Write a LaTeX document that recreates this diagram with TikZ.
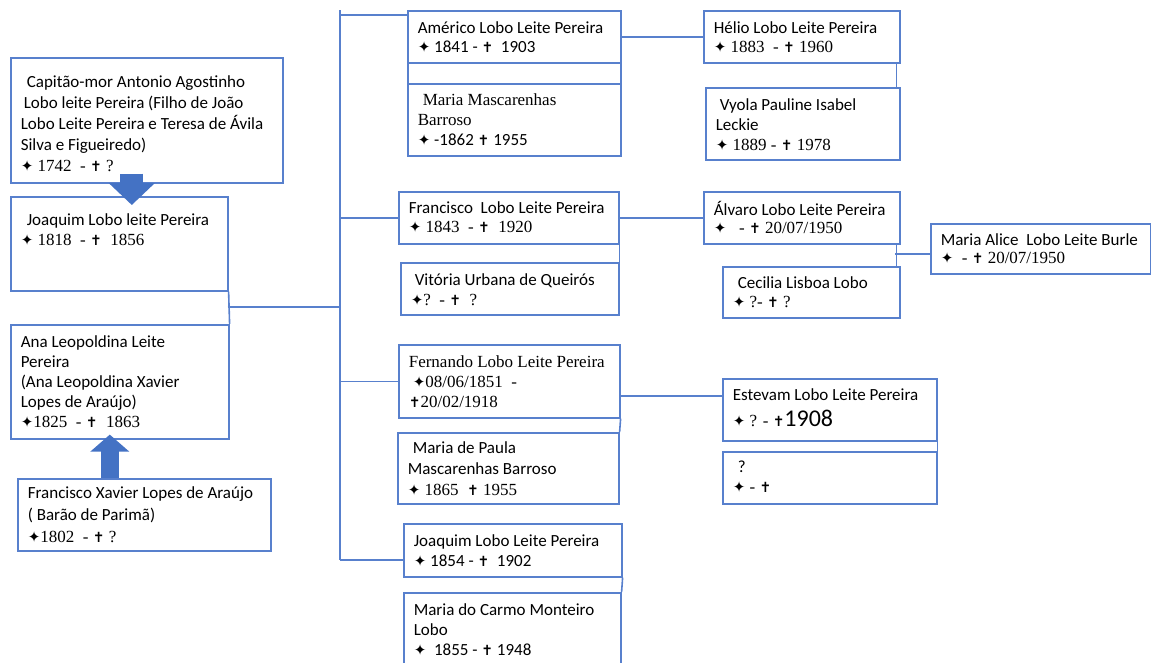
\documentclass[tikz,border=0pt]{standalone}
\usepackage{fontspec}
\setmainfont{Carlito}
\newfontfamily\tm{Liberation Serif}
\newfontfamily\sym{DejaVu Sans}
\usetikzlibrary{arrows.meta}
\definecolor{lineblue}{RGB}{88,128,205}
\definecolor{arrowblue}{RGB}{68,114,196}
\newcommand{\born}{{\sym\fontsize{15}{15}\selectfont ✦}}
\newcommand{\died}{{\sym\fontsize{14}{14}\selectfont ✝}}
\newcommand{\card}[4][22pt]{\parbox[c][#3][t]{#2}{\baselineskip=20pt\rule{0pt}{#1}#4}}

\begin{document}
\begin{tikzpicture}[%
        x = 1pt, y = -1pt,
        person/.style = {draw=lineblue, line width=1.6pt, anchor=north west,
          inner xsep=10pt, inner ysep=0pt, font=\fontsize{17}{20}\selectfont},
        link/.style = {draw=lineblue, line width=1.6pt},
        fatarrow/.style = {draw=arrowblue, line width=23pt,
          -{Triangle[width=45pt,length=22pt]}}
    ]
      \useasboundingbox (0,0) rectangle (1151,662);
      \node[person] (capitao) at (10,57) {\card[30pt]{252pt}{125pt}{\baselineskip=21pt
        \hspace*{6pt}Capitão-mor Antonio Agostinho\\
        \hspace*{3pt}Lobo leite Pereira (Filho de João\\
        Lobo Leite Pereira e Teresa de Ávila\\
        Silva e Figueiredo)\\
        {\tm\born\ 1742~~- \died\ ?}}};
      \node[person] (joaquim) at (10,196) {\card[29pt]{197pt}{94pt}{%
        \hspace*{6pt}Joaquim Lobo leite Pereira\\
        {\tm\born\ 1818~~- \died~~1856}}};
      \node[person] (ana) at (10,324) {\card[23pt]{198pt}{114pt}{%
        Ana Leopoldina Leite\\
        Pereira\\
        (Ana Leopoldina Xavier\\
        Lopes de Araújo)\\
        {\tm\born1825~~- \died~~1863}}};
      \node[person] (fxavier) at (17,478) {\card[20pt]{233pt}{72pt}{\baselineskip=22pt
        Francisco Xavier Lopes de Araújo\\
        ( Barão de Parimã)\\
        {\tm\born1802~~- \died\ ?}}};
      \node[person] (americo) at (407,10) {\card[23pt]{193pt}{52pt}{\baselineskip=19pt
        Américo Lobo Leite Pereira\\
        \born\ 1841 - \died~~1903}};
      \node[person] (americogap) at (407,62) {\card{193pt}{21pt}{}};
      \node[person] (mmasc) at (407,83) {\card[22pt]{193pt}{72pt}{%
        {\tm\hspace*{5pt}Maria Mascarenhas}\\
        {\tm Barroso}\\
        \born\ -1862 \died\ 1955}};
      \node[person] (francisco) at (398,191) {\card[22pt]{200pt}{52pt}{\baselineskip=19pt
        Francisco~ Lobo Leite Pereira\\
        {\tm\born\ 1843~~- \died~~1920}}};
      \node[person] (vitoria) at (400,262) {\card[23pt]{198pt}{52pt}{%
        \hspace*{4pt}Vitória Urbana de Queirós\\
        {\tm\born?~~- \died~~?}}};
      \node[person] (fernando) at (398,344) {\card[23pt]{201pt}{73pt}{%
        {\tm Fernando Lobo Leite Pereira}\\
        {\tm\hspace*{4pt}\born08/06/1851~~-}\\
        {\tm\died20/02/1918}}};
      \node[person] (mpaula) at (397,432) {\card[21pt]{201pt}{71pt}{\baselineskip=21pt
        \hspace*{5pt}Maria de Paula\\
        Mascarenhas Barroso\\
        {\tm\born\ 1865~~\died\ 1955}}};
      \node[person] (joaquim2) at (403,523) {\card[23pt]{198pt}{53pt}{%
        Joaquim Lobo Leite Pereira\\
        \born\ 1854 - \died~~1902}};
      \node[person] (mcarmo) at (403,592) {\card[23pt]{197pt}{80pt}{%
        Maria do Carmo Monteiro\\
        Lobo\\
        \born~~1855 - \died\ 1948}};
      \node[person] (helio) at (703,10) {\card[23pt]{176pt}{52pt}{\baselineskip=19pt
        Hélio Lobo Leite Pereira\\
        {\tm\born\ 1883~~- \died\ 1960}}};
      \node[person] (vyola) at (705,87) {\card[23pt]{174pt}{72pt}{%
        \hspace*{4pt}Vyola Pauline Isabel\\
        Leckie\\
        {\tm\born\ 1889 - \died\ 1978}}};
      \node[person] (alvaro) at (703,191) {\card[24pt]{176pt}{52pt}{\baselineskip=18pt
        Álvaro Lobo Leite Pereira\\
        {\tm\born~~~- \died\ 20/07/1950}}};
      \node[person] (cecilia) at (722,266) {\card[22pt]{157pt}{51pt}{\baselineskip=19pt
        \hspace*{5pt}Cecilia Lisboa Lobo\\
        {\tm\born\ ?- \died\ ?}}};
      \node[person] (malice) at (930,223) {\card[22pt]{200pt}{50pt}{\baselineskip=18pt
        Maria Alice~ Lobo Leite Burle\\
        {\tm\born~~- \died\ 20/07/1950}}};
      \node[person] (estevam) at (722,378) {\card[22pt]{194pt}{62pt}{%
        Estevam Lobo Leite Pereira\\[6pt]
        {\tm\born\ ? - \died}{\fontsize{24}{24}\selectfont 1908}}};
      \node[person] (unknown) at (722,451) {\card[21pt]{194pt}{52pt}{%
        \hspace*{5pt}?\\
        {\tm\born\ - \died}}};
      \coordinate (trunk) at (340,10);
      \coordinate (trunkend) at (340,560);
      \coordinate (couple) at (227.5,307);
      \coordinate (alvarocouple) at (895,254);
      \coordinate (fernandoline) at (619,396);
      \draw[link] (trunk) -- (trunkend);
      \draw[link] (joaquim.south east) -- (ana.north east);
      \draw[link] (couple) -- (couple -| trunk);
      \draw[link] ([yshift=-5pt]trunk) -- ([yshift=-5pt]americo.north west);
      \draw[link] (francisco.west) -- (francisco.west -| trunk);
      \draw[link] (fernando.west) -- (fernando.west -| trunk);
      \draw[link] (trunkend) -- (trunkend -| joaquim2.west);
      \draw[link] (americo.east) -- (americo.east -| helio.west);
      \draw[link] ([xshift=-4pt]helio.south east) -- ([xshift=-4pt]helio.south east |- vyola.north);
      \draw[link] (francisco.east) -- (francisco.east -| alvaro.west);
      \draw[link] (francisco.south east) -- (vitoria.north east);
      \draw[link] ([xshift=-4pt]alvaro.south east) -- ([xshift=-4pt]alvaro.south east |- cecilia.north);
      \draw[link] (alvarocouple) -- (alvarocouple -| malice.west);
      \draw[link] (fernandoline) -- (fernandoline -| estevam.west);
      \draw[link] (fernando.south east) -- (mpaula.north east);
      \draw[link] (estevam.south east) -- (unknown.north east);
      \draw[link] (joaquim2.south east) -- (mcarmo.north east);
      \draw[fatarrow] ([xshift=-15pt,yshift=10pt]capitao.south) -- ([xshift=12.5pt,yshift=-9pt]joaquim.north);
      \draw[fatarrow, line width=18pt, -{Triangle[width=38pt,length=17pt]}]
        ([xshift=-34.5pt]fxavier.north) -- ([xshift=-10pt,yshift=5pt]ana.south);
    \end{tikzpicture}
\end{document}
